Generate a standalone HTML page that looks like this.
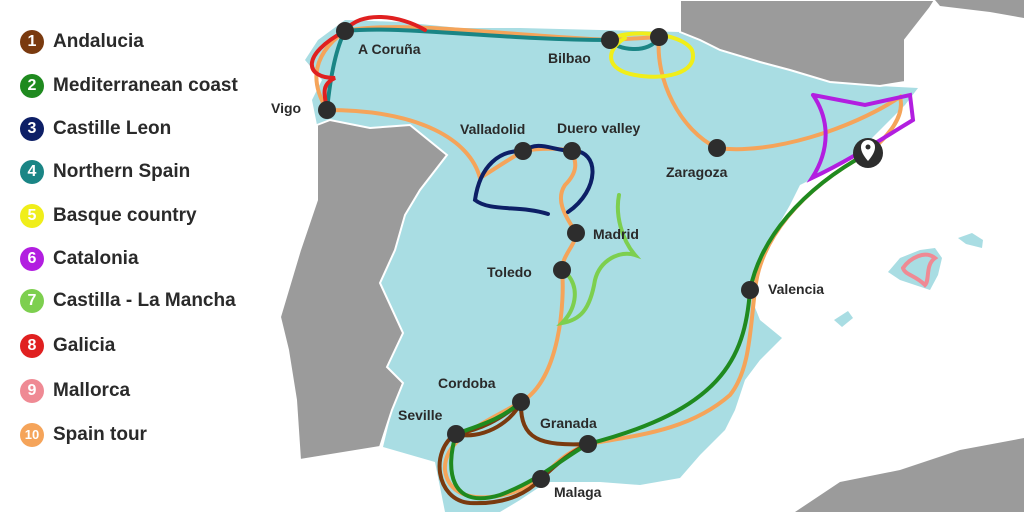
<!DOCTYPE html>
<html><head><meta charset="utf-8"><style>
body{margin:0;width:1024px;height:512px;overflow:hidden;background:#fff;font-family:"Liberation Sans",sans-serif}
.lg{position:absolute;left:20px;font-size:19px;font-weight:bold;color:#2a2a2a;display:flex;align-items:center}
.lg span.b{display:inline-block;width:24px;height:24px;border-radius:50%;color:#fff;font-size:16px;text-align:center;line-height:24px;margin-right:9px}
</style></head><body>
<svg width="1024" height="512" style="position:absolute;left:0;top:0">
<!-- Spain -->
<path d="M318,40 L345,20 L400,22 L460,28 L520,28 L600,30 L680,32 L700,40 L720,50 L760,62 L790,70 L830,82 L880,86 L918,88 L905,105 L880,130 L860,150 L830,170 L800,185 L790,205 L770,240 L755,275 L752,300 L760,320 L782,338 L760,360 L745,380 L735,410 L725,430 L700,455 L680,478 L640,485 L600,482 L547,482 L520,500 L500,512 L445,512 L435,462 L383,447 L392,410 L403,383 L387,367 L403,333 L380,283 L395,250 L405,215 L420,190 L447,155 L410,125 L370,128 L330,120 L317,125 L312,100 L322,80 L305,60 Z" fill="#a9dde3"/>
<!-- France -->
<path d="M680,0 L935,0 L930,8 L905,40 L905,82 L880,86 L830,82 L790,70 L760,62 L720,50 L700,40 L680,32 Z" fill="#9b9b9b" stroke="#fff" stroke-width="2"/>
<path d="M935,0 L1024,0 L1024,18 L990,12 L940,6 Z" fill="#9b9b9b"/>
<!-- Portugal -->
<path d="M317,125 L330,120 L370,128 L410,125 L447,155 L420,190 L405,215 L395,250 L380,283 L403,333 L387,367 L403,383 L392,410 L380,447 L300,460 L296,400 L288,350 L280,317 L300,250 L317,200 Z" fill="#9b9b9b" stroke="#fff" stroke-width="2"/>
<!-- Africa -->
<path d="M795,512 L840,482 L900,470 L960,450 L1024,438 L1024,512 Z" fill="#9b9b9b"/>
<!-- islands -->
<path d="M888,272 L900,258 L920,250 L935,248 L942,258 L938,275 L930,290 L915,285 L900,280 Z" fill="#a9dde3"/>
<path d="M958,238 L972,233 L983,240 L982,248 L966,244 Z" fill="#a9dde3"/>
<path d="M834,320 L848,311 L853,318 L842,327 Z" fill="#a9dde3"/>
<g fill="none" stroke-width="4" stroke-linecap="round">
<path d="M327,110 C315,90 305,60 345,31 C400,20 500,35 610,40 L659,37 C655,80 680,130 717,148 C770,155 850,130 900,97 C905,115 890,135 868,153 C800,190 760,240 755,290 C750,330 750,370 730,395 C690,430 640,435 588,444 C560,455 550,470 541,479 C510,500 450,510 445,470 C443,440 480,425 521,402 C560,380 565,300 562,270 C562,255 576,245 576,233 C565,215 555,200 565,185 C580,170 575,160 572,151 C560,148 540,148 523,151 C500,165 485,175 480,178 C470,140 420,110 327,110" stroke="#f5a45a"/>
<path d="M521,402 C500,420 480,430 456,434 C430,450 435,500 470,503 C510,505 530,490 541,479 C560,460 575,450 588,444 C540,446 520,440 521,402 C510,425 480,440 456,434" stroke="#7a3a0f"/>
<path d="M868,153 C800,190 760,240 750,290 C745,360 720,410 588,444 C560,460 540,480 500,495 C450,510 445,470 456,434 C480,425 500,420 521,402" stroke="#1f8a1f"/>
<path d="M327,110 C330,80 335,50 345,31 C400,25 500,40 610,40 C615,50 650,55 659,37" stroke="#1a8585"/>
<path d="M327,110 C325,95 320,85 335,78 C305,78 300,55 345,31 C360,10 400,15 425,30" stroke="#e02020"/>
<path d="M610,40 C620,30 680,30 692,50 C700,75 660,80 635,75 C605,70 605,50 625,38" stroke="#f0ee1a"/>
<path d="M523,151 C500,150 480,165 475,200 C490,212 520,205 548,214 M523,151 C540,140 550,150 572,151 C600,150 600,190 568,212" stroke="#0d1f66"/>
<path d="M619,195 C615,215 622,240 635,255 C620,250 600,260 595,280 C590,310 580,320 562,323 C575,310 580,290 568,275" stroke="#7dcf4f"/>
<path d="M813,95 L865,105 L910,95 L913,120 C880,140 850,160 812,178 C830,150 830,120 813,95" stroke="#b21ee0"/>
<path d="M903,268 C910,258 925,250 935,258 C925,265 930,280 925,285 C915,275 905,275 903,268" stroke="#ef8a94"/>
</g>
<g fill="#2d2d2d">
<circle cx="345" cy="31" r="9"/><circle cx="610" cy="40" r="9"/><circle cx="659" cy="37" r="9"/><circle cx="327" cy="110" r="9"/>
<circle cx="523" cy="151" r="9"/><circle cx="572" cy="151" r="9"/><circle cx="717" cy="148" r="9"/><circle cx="576" cy="233" r="9"/>
<circle cx="562" cy="270" r="9"/><circle cx="750" cy="290" r="9"/><circle cx="521" cy="402" r="9"/><circle cx="456" cy="434" r="9"/>
<circle cx="588" cy="444" r="9"/><circle cx="541" cy="479" r="9"/>
</g>
<circle cx="868" cy="153" r="15" fill="#2d2d2d"/>
<path d="M868,161 C862,154 861,150 861,147 A7,7 0 0 1 875,147 C875,150 874,154 868,161 Z" fill="#fff"/>
<circle cx="868" cy="147" r="2.5" fill="#2d2d2d"/>
<g font-family="Liberation Sans,sans-serif" font-size="14" font-weight="bold" fill="#2a2a2a">
<text x="358" y="54">A Coruña</text><text x="548" y="63">Bilbao</text><text x="271" y="113">Vigo</text>
<text x="460" y="134">Valladolid</text><text x="557" y="133">Duero valley</text><text x="666" y="177">Zaragoza</text>
<text x="593" y="239">Madrid</text><text x="487" y="277">Toledo</text><text x="768" y="294">Valencia</text>
<text x="438" y="388">Cordoba</text><text x="398" y="420">Seville</text><text x="540" y="428">Granada</text><text x="554" y="497">Malaga</text>
</g>
</svg>
<div class="lg" style="top:30px"><span class="b" style="background:#7a3a0f">1</span>Andalucia</div>
<div class="lg" style="top:74px"><span class="b" style="background:#1f8a1f">2</span>Mediterranean coast</div>
<div class="lg" style="top:117px"><span class="b" style="background:#0d1f66">3</span>Castille Leon</div>
<div class="lg" style="top:160px"><span class="b" style="background:#1a8585">4</span>Northern Spain</div>
<div class="lg" style="top:204px"><span class="b" style="background:#f0ee1a">5</span>Basque country</div>
<div class="lg" style="top:247px"><span class="b" style="background:#b21ee0">6</span>Catalonia</div>
<div class="lg" style="top:289px"><span class="b" style="background:#7dcf4f">7</span>Castilla - La Mancha</div>
<div class="lg" style="top:334px"><span class="b" style="background:#e02020">8</span>Galicia</div>
<div class="lg" style="top:379px"><span class="b" style="background:#ef8a94">9</span>Mallorca</div>
<div class="lg" style="top:423px"><span class="b" style="background:#f5a45a;font-size:13px">10</span>Spain tour</div>
</body></html>
